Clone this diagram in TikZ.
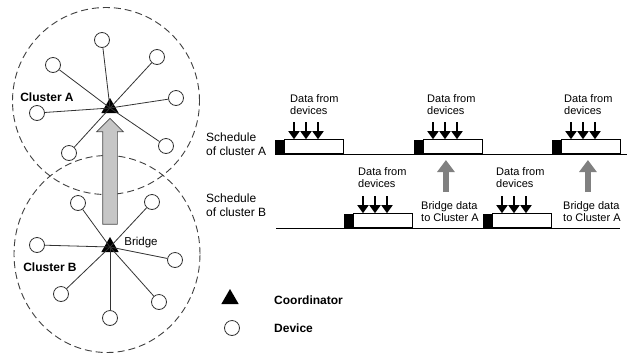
\documentclass[tikz,border=0pt]{standalone}
\usepackage{fontspec}
\setmainfont{Liberation Sans}
\usetikzlibrary{shapes.geometric,shapes.arrows,arrows.meta}

\begin{document}
\begin{tikzpicture}[x=1pt,y=-1pt,
  cluster/.style={ellipse,draw=black!75,dash pattern=on 7pt off 4pt,line width=0.9pt,inner sep=0pt},
  device/.style={circle,draw=black!80,fill=white,line width=0.8pt,minimum size=15pt,inner sep=0pt},
  coordr/.style={regular polygon,regular polygon sides=3,fill=black,minimum size=20pt,inner sep=0pt},
  link/.style={draw=black!80,line width=0.8pt},
  tag/.style={font=\bfseries\fontsize{12}{14}\selectfont,inner sep=0pt},
  sched/.style={font=\fontsize{12}{14}\selectfont,align=left,inner sep=0pt},
  note/.style={font=\fontsize{11}{12.5}\selectfont,align=left,inner sep=0pt},
  sync/.style={fill=black,minimum width=9pt,minimum height=14pt,inner sep=0pt,anchor=south west},
  slot/.style={draw,line width=0.8pt,fill=white,minimum height=14pt,inner sep=0pt,anchor=south west},
  axis/.style={line width=1pt},
  dn/.style={line width=1.7pt,-{Triangle[width=11pt,length=8pt]}},
  bridge/.style={draw=gray,line width=6pt,-{Triangle[width=17pt,length=12pt]}}]

  \useasboundingbox[fill=white] (0,0) rectangle (629,354);

  % Clusters
  \node[cluster,minimum width=187pt,minimum height=187pt] (ClA) at (106,101) {};
  \node[cluster,minimum width=186pt,minimum height=197pt] (ClB) at (107,254) {};

  % Cluster A
  \node[coordr] (CoA) at (110,108) {};
  \node[device] (A1) at (102,40) {};
  \node[device] (A2) at (53,65) {};
  \node[device] (A3) at (157,57) {};
  \node[device] (A4) at (176,98) {};
  \node[device] (A5) at (37,113) {};
  \node[device] (A6) at (69,153) {};
  \node[device] (A7) at (166,146) {};
  \draw[link] (CoA.center) edge (A1) edge (A2) edge (A3) edge (A4)
    edge (A5) edge (A6) edge (A7);
  \node[tag] (LbA) at (47,97) {Cluster A};

  % Cluster B
  \node[coordr] (CoB) at (110,247) {};
  \node[device] (B1) at (78,203) {};
  \node[device] (B2) at (152,202) {};
  \node[device] (B3) at (37,245) {};
  \node[device] (B4) at (175,260) {};
  \node[device] (B5) at (61,294) {};
  \node[device] (B6) at (159,302) {};
  \node[device] (B7) at (110,318) {};
  \draw[link] (CoB.center) edge (B1) edge (B2) edge (B3) edge (B4)
    edge (B5) edge (B6) edge (B7);
  \node[tag] (LbB) at (50,267) {Cluster B};
  \node[font=\fontsize{11.5}{13}\selectfont,inner sep=0pt] (Brg) at (141,243) {Bridge};

  % bridge arrow B -> A
  \node[single arrow,draw=black!70,fill=gray!45,line width=0.7pt,rotate=90,
    minimum height=106pt,inner sep=7pt,single arrow head extend=6pt] (Up) at (110,175) {};

  % Schedules
  \node[sched,anchor=west] (SchA) at (206,144) {Schedule\\of cluster A};
  \node[sched,anchor=west] (SchB) at (206,205) {Schedule\\of cluster B};

  \coordinate (TlA0) at (275,154);
  \coordinate (TlA1) at (627,154);
  \coordinate (TlB0) at (276,228);
  \coordinate (TlB1) at (620,228);
  \draw[axis] (TlA0) -- (TlA1);
  \draw[axis] (TlB0) -- (TlB1);

  % superframes of cluster A
  \node[sync] (SyA1) at (275,154) {};
  \node[slot,minimum width=59pt] (SlA1) at (284,154) {};
  \node[sync] (SyA2) at (414,154) {};
  \node[slot,minimum width=59pt] (SlA2) at (423,154) {};
  \node[sync] (SyA3) at (552,154) {};
  \node[slot,minimum width=59pt] (SlA3) at (561,154) {};

  % superframes of cluster B
  \node[sync] (SyB1) at (344,228) {};
  \node[slot,minimum width=59pt] (SlB1) at (353,228) {};
  \node[sync] (SyB2) at (483,228) {};
  \node[slot,minimum width=59pt] (SlB2) at (492,228) {};

  % data from devices
  \node[note,anchor=north west] (DvA1) at (290,94) {Data from\\devices};
  \node[note,anchor=north west] (DvA2) at (427,94) {Data from\\devices};
  \node[note,anchor=north west] (DvA3) at (564,94) {Data from\\devices};
  \node[note,anchor=north west] (DvB1) at (358,167) {Data from\\devices};
  \node[note,anchor=north west] (DvB2) at (496,167) {Data from\\devices};
  \foreach \s in {SlA1,SlA2,SlA3,SlB1,SlB2}
    \foreach \d in {10,22,34}
      \draw[dn] ([xshift=\d pt,yshift=17pt]\s.north west) -- ([xshift=\d pt]\s.north west);

  % bridge data
  \node[note,anchor=north west] (BrA1) at (421,201) {Bridge data\\to Cluster A};
  \node[note,anchor=north west] (BrA2) at (563,201) {Bridge data\\to Cluster A};
  \draw[bridge] ([xshift=-4pt,yshift=9pt]BrA1.north) -- ([xshift=-4pt,yshift=41pt]BrA1.north);
  \draw[bridge] ([xshift=-4pt,yshift=9pt]BrA2.north) -- ([xshift=-4pt,yshift=41pt]BrA2.north);

  % Legend
  \node[coordr] (LgCo) at (230,299) {};
  \node[tag,anchor=west] (LgCoT) at (274,300) {Coordinator};
  \node[device] (LgDv) at (232,328) {};
  \node[tag,anchor=west] (LgDvT) at (274,328) {Device};
\end{tikzpicture}
\end{document}
